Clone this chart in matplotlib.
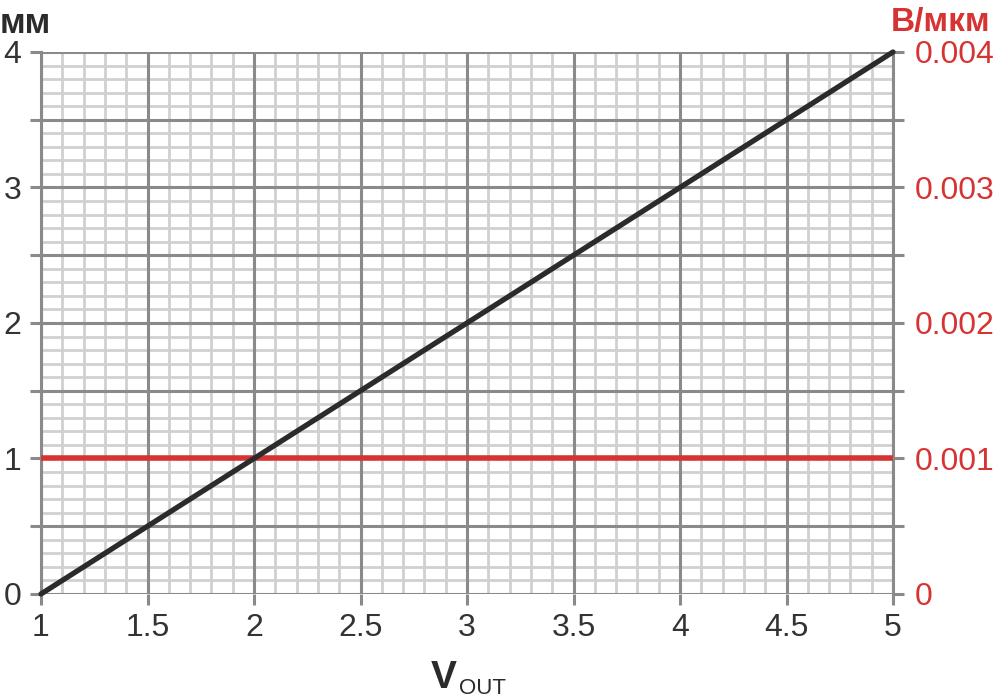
import matplotlib
matplotlib.use("Agg")
import matplotlib.pyplot as plt
from matplotlib.ticker import MultipleLocator, FixedLocator, FuncFormatter

v_out = [1, 5]
mm = [0, 4]
v_per_um = [0.001, 0.001]
x_ticks = [1, 1.5, 2, 2.5, 3, 3.5, 4, 4.5, 5]
left_labels = [0, 1, 2, 3, 4]
right_ticks = [0, 0.001, 0.002, 0.003, 0.004]
right_labels = ["0", "0.001", "0.002", "0.003", "0.004"]

plt.rcParams['font.family'] = ['Liberation Sans', 'DejaVu Sans']

RED = "#d63333"
DARK = "#2b2b2b"
MAJ = "#8a8a8a"
MIN = "#d0d0d0"
RECT = [0.041, 0.1478, 0.852, 0.7776]

fig = plt.figure(figsize=(10, 6.97), dpi=100)

# background axes: minor grid only
bg = fig.add_axes(RECT, zorder=0)
bg.set_xlim(1, 5)
bg.set_ylim(0, 4)
bg.xaxis.set_major_locator(MultipleLocator(0.1))
bg.yaxis.set_major_locator(MultipleLocator(0.1))
bg.grid(True, color=MIN, lw=2.0)
bg.tick_params(length=0, labelbottom=False, labelleft=False)
for s in bg.spines.values():
    s.set_visible(False)

# right axis (labels only)
ax2 = fig.add_axes(RECT, zorder=1)
ax2.patch.set_visible(False)
ax2.set_xlim(1, 5)
ax2.set_ylim(0, 0.004)
ax2.yaxis.tick_right()
ax2.yaxis.set_major_locator(FixedLocator(right_ticks))
ax2.set_yticklabels(right_labels)
ax2.tick_params(axis="y", length=0, labelsize=23, labelcolor=RED, pad=16)
ax2.tick_params(axis="x", length=0, labelbottom=False)
for s in ax2.spines.values():
    s.set_visible(False)

# main axes
ax = fig.add_axes(RECT, zorder=2)
ax.patch.set_visible(False)
ax.set_xlim(1, 5)
ax.set_ylim(0, 4)
ax.xaxis.set_major_locator(FixedLocator(x_ticks))
ax.yaxis.set_major_locator(MultipleLocator(0.5))
ax.grid(which="major", color=MAJ, lw=2.2)
ax.set_axisbelow(True)
ax.xaxis.set_major_formatter(FuncFormatter(lambda v, p: f"{v:g}"))
ax.yaxis.set_major_formatter(FuncFormatter(lambda v, p: f"{v:g}" if v in left_labels else ""))
ax.tick_params(which="major", length=8, width=2.2, color=MAJ, labelsize=23,
               labelcolor="#333333", pad=6)
ax.tick_params(axis="y", right=True, labelright=False)
for s in ax.spines.values():
    s.set_visible(False)
for side in ("left", "right"):
    ax.spines[side].set_visible(True)
    ax.spines[side].set_color(MAJ)
    ax.spines[side].set_linewidth(2.2)

ax.plot(v_out, v_per_um, color=RED, lw=4.0, solid_capstyle="butt", zorder=3,
        transform=ax2.transData)
ax.plot(v_out, mm, color=DARK, lw=3.8, solid_capstyle="round", zorder=4, clip_on=False)

fig.text(0.0, 0.99, "мм", fontsize=25, fontweight="bold", color=DARK, ha="left", va="top")
fig.text(0.99, 0.99, "В/мкм", fontsize=24, fontweight="bold", color=RED, ha="right", va="top")
fig.text(0.431, 0.013, "V", fontsize=28, fontweight="bold", color=DARK, ha="left", va="baseline")
fig.text(0.4585, 0.005, "OUT", fontsize=16, color=DARK, ha="left", va="baseline")

fig.savefig("out.png", dpi=100)
